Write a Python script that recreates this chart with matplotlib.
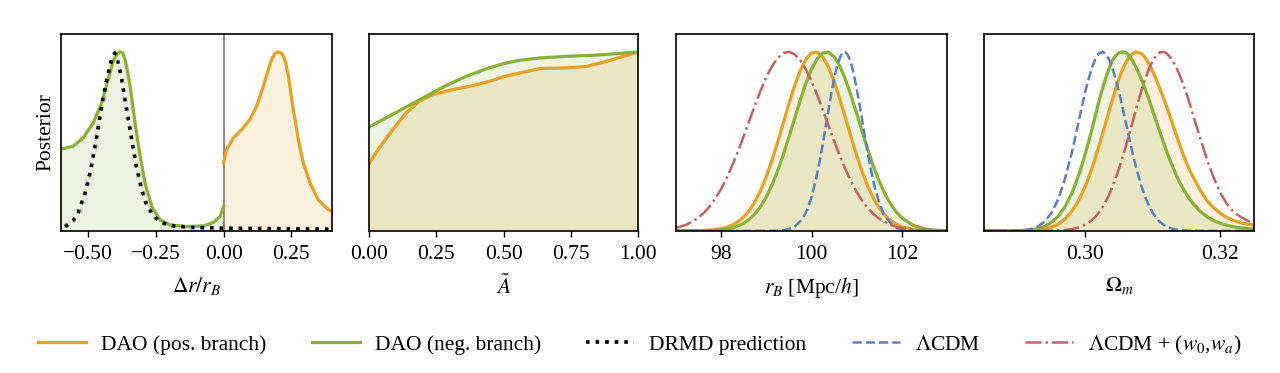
import numpy as np
import matplotlib
matplotlib.use("Agg")
import matplotlib.pyplot as plt
from matplotlib.lines import Line2D

plt.rcParams["font.family"] = "serif"
plt.rcParams["font.serif"] = ["Liberation Serif", "DejaVu Serif"]
plt.rcParams["mathtext.fontset"] = "stix"
plt.rcParams["font.size"] = 15.5
plt.rcParams["axes.linewidth"] = 1.2
plt.rcParams["axes.unicode_minus"] = True

ORANGE = "#E8A025"
GREEN = "#88B236"
BLUE = "#5B7FC2"
RED = "#C46262"

# panel 1: delta r / r_B
dr_green_x = [-0.6, -0.594, -0.555, -0.518, -0.481, -0.450, -0.419, -0.407, -0.394, -0.382,
              -0.372, -0.364, -0.355, -0.345, -0.327, -0.308, -0.290, -0.265, -0.235, -0.198,
              -0.136, -0.075, -0.038, -0.013, 0.0]
dr_green_y = [0.456, 0.458, 0.473, 0.520, 0.604, 0.716, 0.884, 0.950, 0.987, 1.0,
              0.993, 0.959, 0.893, 0.809, 0.604, 0.417, 0.268, 0.136, 0.062, 0.034,
              0.024, 0.028, 0.047, 0.080, 0.136]
dr_orange_x = [0.0, 0.011, 0.036, 0.067, 0.097, 0.122, 0.147, 0.171, 0.181, 0.190, 0.202,
               0.212, 0.220, 0.229, 0.239, 0.257, 0.276, 0.294, 0.319, 0.349, 0.380, 0.4]
dr_orange_y = [0.380, 0.454, 0.520, 0.566, 0.623, 0.697, 0.809, 0.931, 0.968, 0.993, 1.0,
               0.994, 0.978, 0.940, 0.865, 0.679, 0.510, 0.380, 0.268, 0.174, 0.127, 0.108]
drmd_x = [-0.585, -0.555, -0.536, -0.511, -0.490, -0.468, -0.450, -0.431, -0.413, -0.401,
          -0.389, -0.376, -0.358, -0.339, -0.321, -0.302, -0.282, -0.253, -0.222, -0.186,
          -0.112, 0.011, 0.2, 0.393]
drmd_y = [0.024, 0.056, 0.103, 0.211, 0.342, 0.529, 0.697, 0.847, 0.959, 0.993,
          0.941, 0.847, 0.679, 0.510, 0.352, 0.230, 0.136, 0.075, 0.043, 0.028,
          0.019, 0.015, 0.012, 0.010]

# panel 2: A tilde
a_green_x = [0.0, 0.063, 0.138, 0.212, 0.286, 0.361, 0.435, 0.497, 0.561, 0.636,
             0.735, 0.834, 0.921, 1.0]
a_green_y = [0.580, 0.631, 0.692, 0.752, 0.811, 0.863, 0.905, 0.933, 0.953, 0.966,
             0.975, 0.981, 0.990, 1.0]
a_orange_x = [0.0, 0.015, 0.038, 0.088, 0.138, 0.187, 0.237, 0.311, 0.386, 0.447,
              0.497, 0.561, 0.636, 0.735, 0.809, 0.884, 0.945, 1.0]
a_orange_y = [0.375, 0.410, 0.463, 0.565, 0.659, 0.724, 0.761, 0.789, 0.811, 0.835,
              0.860, 0.882, 0.907, 0.910, 0.919, 0.947, 0.975, 0.998]

# panel 3: r_B
rb_x = np.concatenate([[97.0, 97.25, 97.5, 97.75], np.arange(98.0, 102.01, 0.125),
                       [102.25, 102.5, 102.75, 103.0]])
rb_orange = [0.0, 0.0003, 0.001, 0.004,
             0.012, 0.020, 0.033, 0.052, 0.078, 0.115, 0.164, 0.227, 0.304, 0.394, 0.495,
             0.602, 0.709, 0.810, 0.895, 0.958, 0.994, 0.998, 0.971, 0.915, 0.835, 0.738,
             0.633, 0.525, 0.422, 0.328, 0.247, 0.181, 0.128, 0.088, 0.058, 0.037, 0.023,
             0.008, 0.0025, 0.0007, 0.0002]
rb_green = [0.0, 0.0001, 0.0005, 0.0017,
            0.006, 0.010, 0.017, 0.028, 0.043, 0.065, 0.096, 0.137, 0.190, 0.256, 0.335,
            0.425, 0.524, 0.627, 0.729, 0.824, 0.903, 0.961, 0.994, 0.998, 0.973, 0.922,
            0.847, 0.757, 0.656, 0.553, 0.452, 0.359, 0.277, 0.207, 0.151, 0.106, 0.073,
            0.031, 0.012, 0.004, 0.0013]
rb_red_x = np.concatenate([np.arange(97.0, 101.51, 0.125),
                           [101.75, 102.0, 102.25, 102.5, 102.75, 103.0]])
rb_red = [0.017, 0.026, 0.037, 0.054, 0.075, 0.103, 0.138, 0.182, 0.235, 0.297, 0.368,
          0.446, 0.530, 0.617, 0.703, 0.785, 0.859, 0.920, 0.966, 0.993, 1.000, 0.986,
          0.953, 0.902, 0.836, 0.760, 0.676, 0.589, 0.503, 0.421, 0.344, 0.277, 0.217,
          0.167, 0.126, 0.093, 0.068,
          0.033, 0.015, 0.006, 0.002, 0.001, 0.0]
rb_blue_x = np.concatenate([[97.0, 98.0, 99.0, 99.2, 99.4, 99.6, 99.8, 99.9, 100.0, 100.1],
                            np.arange(100.2, 101.21, 0.05),
                            [101.3, 101.4, 101.5, 101.6, 101.8, 102.0, 102.2, 102.4, 103.0]])
rb_blue = [0.0, 0.0, 0.0, 0.001, 0.004, 0.018, 0.066, 0.116, 0.188, 0.289,
           0.413, 0.487, 0.561, 0.637, 0.709, 0.783, 0.848, 0.904, 0.947, 0.980, 0.997,
           0.999, 0.984, 0.956, 0.914, 0.860, 0.794, 0.726, 0.652, 0.576, 0.499,
           0.362, 0.244, 0.157, 0.093, 0.028, 0.006, 0.001, 0.0, 0.0]

# panel 4: Omega_m (coarse grid + finer samples around the peaks)
om_x = [0.285, 0.286, 0.287, 0.288, 0.289, 0.290, 0.291, 0.292, 0.293, 0.294, 0.295,
        0.296, 0.297, 0.298, 0.299, 0.300, 0.301, 0.302, 0.303, 0.304, 0.305, 0.306,
        0.307, 0.308, 0.309, 0.310, 0.311, 0.312, 0.313, 0.314, 0.315, 0.316, 0.317,
        0.318, 0.319, 0.320, 0.321, 0.322, 0.323, 0.324, 0.325]
om_blue = [0, 0, 0, 0, 0.001, 0.002, 0.004, 0.011, 0.025, 0.052, 0.101, 0.177, 0.291,
           0.436, 0.607, 0.777, 0.912, 0.990, 0.990, 0.912, 0.777, 0.607, 0.436, 0.291,
           0.177, 0.101, 0.052, 0.025, 0.011, 0.004, 0.002, 0.001, 0, 0, 0, 0, 0, 0, 0, 0, 0]
om_green = [0, 0, 0, 0, 0.0, 0.001, 0.003, 0.006, 0.013, 0.026, 0.048, 0.082, 0.135,
            0.21, 0.31, 0.43, 0.57, 0.72, 0.85, 0.95, 0.995, 0.995, 0.95, 0.875, 0.78,
            0.67, 0.56, 0.45, 0.355, 0.27, 0.205, 0.15, 0.11, 0.08, 0.058, 0.042, 0.031,
            0.023, 0.017, 0.013, 0.010]
om_orange = [0, 0, 0, 0, 0, 0.0, 0.001, 0.002, 0.005, 0.010, 0.020, 0.038, 0.066, 0.11,
             0.17, 0.25, 0.35, 0.47, 0.60, 0.73, 0.85, 0.94, 0.99, 0.995, 0.96, 0.89, 0.80,
             0.70, 0.59, 0.48, 0.38, 0.30, 0.23, 0.17, 0.13, 0.098, 0.074, 0.058, 0.046,
             0.038, 0.032]
om_red = [0, 0, 0, 0, 0, 0, 0, 0, 0.0, 0.0, 0.001, 0.002, 0.005, 0.010, 0.019, 0.035,
          0.061, 0.101, 0.161, 0.244, 0.349, 0.470, 0.607, 0.743, 0.860, 0.950, 0.996,
          0.993, 0.947, 0.869, 0.766, 0.643, 0.522, 0.402, 0.300, 0.213, 0.15, 0.105,
          0.078, 0.058, 0.045]
om_x_fine = [0.2985, 0.2995, 0.3005, 0.3015, 0.3025, 0.3035, 0.3045, 0.3055, 0.3065,
             0.3075, 0.3085, 0.3095, 0.3105, 0.3115, 0.3125, 0.3135, 0.3145, 0.3155]
om_blue_fine = [0.520, 0.693, 0.849, 0.960, 1.0, 0.960, 0.849, 0.693, 0.520,
                0.360, 0.230, 0.135, 0.073, 0.037, 0.017, 0.007, 0.0026, 0.0009]
om_green_fine = [0.257, 0.367, 0.498, 0.645, 0.788, 0.905, 0.980, 1.0, 0.980,
                 0.916, 0.830, 0.727, 0.615, 0.505, 0.400, 0.310, 0.236, 0.176]
om_orange_fine = [0.138, 0.207, 0.298, 0.408, 0.535, 0.665, 0.792, 0.900, 0.972,
                  1.0, 0.985, 0.930, 0.848, 0.752, 0.645, 0.535, 0.428, 0.338]
om_red_fine = [0.014, 0.026, 0.047, 0.079, 0.128, 0.199, 0.294, 0.408, 0.539,
               0.677, 0.806, 0.911, 0.980, 1.0, 0.975, 0.912, 0.820, 0.706]


def merged(x, y, xf, yf):
    xs = np.concatenate([x, xf])
    ys = np.concatenate([y, yf])
    order = np.argsort(xs)
    return xs[order], ys[order]


LW = 2.3
FILL_A = 0.15

fig = plt.figure(figsize=(12.8, 3.73), dpi=100)
bottom, height = 0.381, 0.528
lefts = [61, 369, 676, 984]
widths = [271, 269, 271, 270]
axes = [fig.add_axes([l / 1280, bottom, w / 1280, height]) for l, w in zip(lefts, widths)]


def dao(ax, x, y, color):
    ax.fill_between(x, 0, y, color=color, alpha=FILL_A, lw=0)
    ax.plot(x, y, color=color, lw=LW, solid_joinstyle="round")


# panel 1
ax = axes[0]
dao(ax, dr_green_x, dr_green_y, GREEN)
dao(ax, dr_orange_x, dr_orange_y, ORANGE)
ax.plot(drmd_x, drmd_y, color="black", ls=":", lw=2.6)
ax.axvline(0.0, color="#888888", lw=1.5, zorder=0)
ax.set_xlim(-0.6, 0.4)
ax.set_xticks([-0.5, -0.25, 0.0, 0.25])
ax.set_xlabel(r"$\Delta r/r_B$")
ax.set_ylabel("Posterior")

# panel 2
ax = axes[1]
dao(ax, a_orange_x, a_orange_y, ORANGE)
dao(ax, a_green_x, a_green_y, GREEN)
ax.set_xlim(0, 1)
ax.set_xticks([0, 0.25, 0.5, 0.75, 1.0])
ax.set_xticklabels(["0.00", "0.25", "0.50", "0.75", "1.00"])
ax.set_xlabel(r"$\tilde{A}$")

# panel 3
ax = axes[2]
dao(ax, rb_x, rb_orange, ORANGE)
dao(ax, rb_x, rb_green, GREEN)
ax.plot(rb_blue_x, rb_blue, color=BLUE, ls="--", lw=1.8)
ax.plot(rb_red_x, rb_red, color=RED, ls="-.", lw=1.8)
ax.set_xlim(97, 103)
ax.set_xticks([98, 100, 102])
ax.set_xlabel(r"$r_B$ [Mpc/$h$]")

# panel 4
ax = axes[3]
dao(ax, *merged(om_x, om_orange, om_x_fine, om_orange_fine), ORANGE)
dao(ax, *merged(om_x, om_green, om_x_fine, om_green_fine), GREEN)
ax.plot(*merged(om_x, om_blue, om_x_fine, om_blue_fine), color=BLUE, ls="--", lw=1.8)
ax.plot(*merged(om_x, om_red, om_x_fine, om_red_fine), color=RED, ls="-.", lw=1.8)
ax.set_xlim(0.285, 0.325)
ax.set_xticks([0.30, 0.32])
ax.set_xticklabels(["0.30", "0.32"])
ax.set_xlabel(r"$\Omega_m$")

for ax in axes:
    ax.set_ylim(0, 1.1)
    ax.set_yticks([])
    ax.tick_params(axis="x", direction="out", length=4, width=1.0, pad=6)
    ax.xaxis.labelpad = 8

handles = [
    Line2D([], [], color=ORANGE, lw=LW),
    Line2D([], [], color=GREEN, lw=LW),
    Line2D([], [], color="black", ls=":", lw=2.6),
    Line2D([], [], color=BLUE, ls="--", lw=1.8),
    Line2D([], [], color=RED, ls="-.", lw=1.8),
]
labels = ["DAO (pos. branch)", "DAO (neg. branch)", "DRMD prediction",
          r"$\Lambda$CDM", r"$\Lambda$CDM + ($w_0$,$w_a$)"]
fig.legend(handles, labels, loc="center", bbox_to_anchor=(0.5, 0.075), ncol=5,
           frameon=False, handlelength=2.23, handletextpad=0.7, columnspacing=2.1)

fig.savefig("out.png", dpi=100)
